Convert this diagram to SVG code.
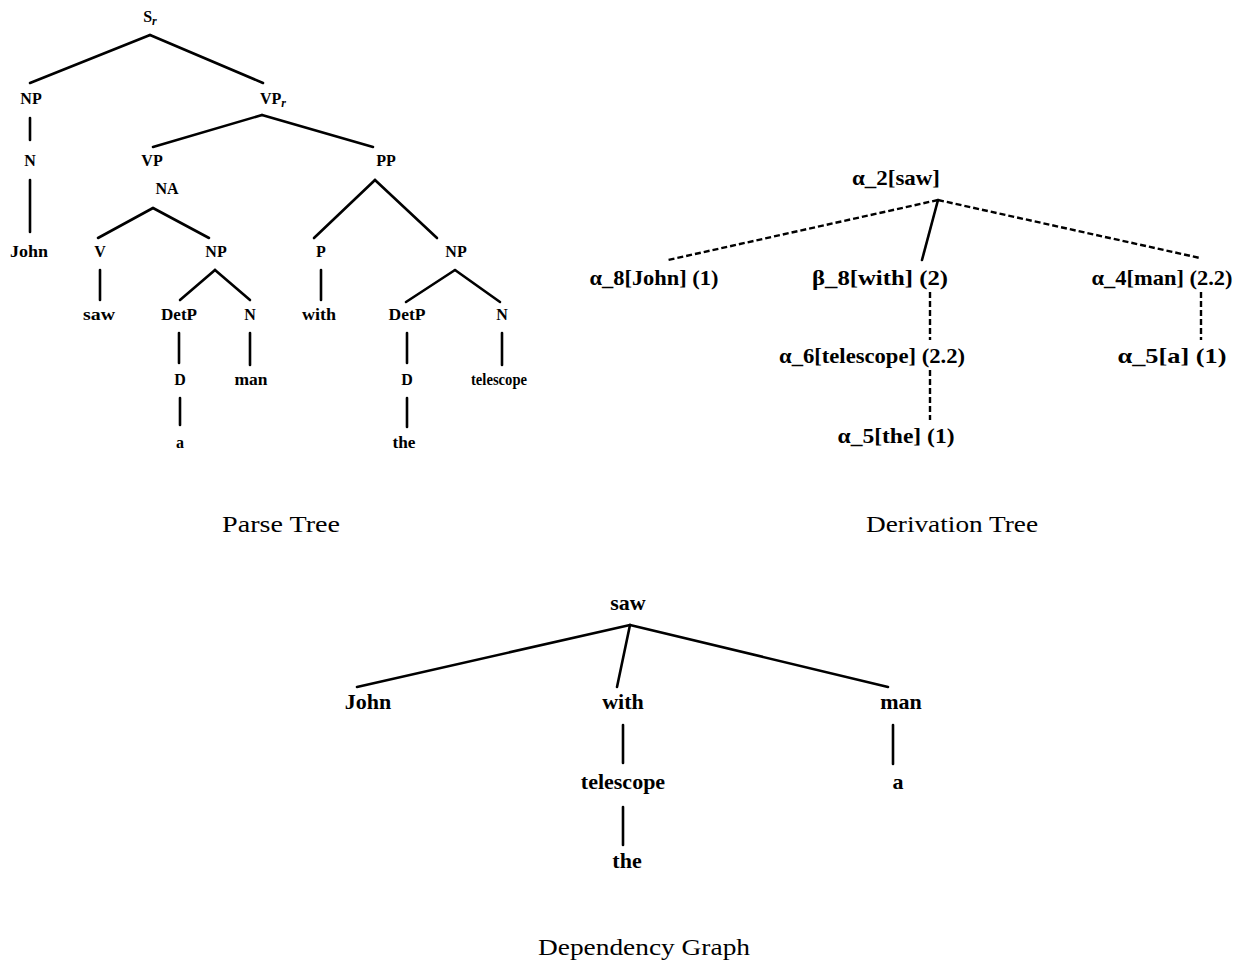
<svg xmlns="http://www.w3.org/2000/svg" width="1241" height="967" viewBox="0 0 1241 967">
<style>
.p{font-family:"Liberation Serif","DejaVu Serif",serif;font-weight:bold;font-size:16px;fill:#000;text-anchor:middle}
.d{font-family:"Liberation Serif","DejaVu Serif",serif;font-weight:bold;font-size:22px;fill:#000;text-anchor:middle}
.g{font-family:"Liberation Serif","DejaVu Serif",serif;font-weight:bold;font-size:22px;fill:#000;text-anchor:middle}
.c{font-family:"Liberation Serif","DejaVu Serif",serif;font-size:23px;fill:#000;text-anchor:middle}
.e line{stroke:#000;stroke-width:2.6;stroke-linecap:round}
.e line.dash{stroke-width:2.4;stroke-dasharray:6,3;stroke-linecap:butt}
.sub{font-size:12px;font-style:italic}
</style>
<rect width="1241" height="967" fill="#fff"/>
<g id="connectors" class="e">
  <line x1="150" y1="35" x2="30" y2="83"/>
  <line x1="150" y1="35" x2="263" y2="83"/>
  <line x1="30" y1="118" x2="30" y2="140"/>
  <line x1="30" y1="180" x2="30" y2="232"/>
  <line x1="262" y1="115" x2="153" y2="147"/>
  <line x1="262" y1="115" x2="373" y2="147"/>
  <line x1="153" y1="208" x2="98" y2="238"/>
  <line x1="153" y1="208" x2="209" y2="238"/>
  <line x1="375" y1="180" x2="314" y2="238"/>
  <line x1="375" y1="180" x2="437" y2="238"/>
  <line x1="100" y1="270" x2="100" y2="300"/>
  <line x1="215" y1="270" x2="180" y2="300"/>
  <line x1="215" y1="270" x2="250" y2="300"/>
  <line x1="179" y1="333" x2="179" y2="363"/>
  <line x1="250" y1="333" x2="250" y2="365"/>
  <line x1="180" y1="398" x2="180" y2="425"/>
  <line x1="321" y1="270" x2="321" y2="300"/>
  <line x1="455" y1="270" x2="406" y2="302"/>
  <line x1="455" y1="270" x2="500" y2="302"/>
  <line x1="407" y1="333" x2="407" y2="363"/>
  <line x1="407" y1="398" x2="407" y2="427"/>
  <line x1="502" y1="333" x2="502" y2="365"/>
  <line class="dash" x1="938" y1="200" x2="668" y2="260"/>
  <line x1="938" y1="200" x2="922" y2="260"/>
  <line class="dash" x1="938" y1="200" x2="1200" y2="258"/>
  <line class="dash" x1="930" y1="292" x2="930" y2="340"/>
  <line class="dash" x1="930" y1="370" x2="930" y2="420"/>
  <line class="dash" x1="1201" y1="292" x2="1201" y2="340"/>
  <line x1="630" y1="625" x2="357" y2="687"/>
  <line x1="630" y1="625" x2="617" y2="687"/>
  <line x1="630" y1="625" x2="888" y2="687"/>
  <line x1="623" y1="725" x2="623" y2="763"/>
  <line x1="623" y1="807" x2="623" y2="845"/>
  <line x1="893" y1="725" x2="893" y2="764"/>
</g>
<g id="parse-tree">
  <g id="pt-S"><text class="p" x="150" y="22">S<tspan class="sub" dy="3">r</tspan></text></g>
  <g id="pt-NP1"><text class="p" x="31" y="104">NP</text></g>
  <g id="pt-VPr"><text class="p" x="273" y="104">VP<tspan class="sub" dy="3">r</tspan></text></g>
  <g id="pt-N1"><text class="p" x="30" y="166">N</text></g>
  <g id="pt-John"><text class="p" x="29" y="257" textLength="38" lengthAdjust="spacingAndGlyphs">John</text></g>
  <g id="pt-VP"><text class="p" x="152" y="166">VP</text></g>
  <g id="pt-NA"><text class="p" x="167" y="194">NA</text></g>
  <g id="pt-PP"><text class="p" x="386" y="166">PP</text></g>
  <g id="pt-V"><text class="p" x="100" y="257">V</text></g>
  <g id="pt-NP2"><text class="p" x="216" y="257">NP</text></g>
  <g id="pt-P"><text class="p" x="321" y="257">P</text></g>
  <g id="pt-NP3"><text class="p" x="456" y="257">NP</text></g>
  <g id="pt-saw"><text class="p" x="99" y="320" textLength="32" lengthAdjust="spacingAndGlyphs">saw</text></g>
  <g id="pt-DetP1"><text class="p" x="179" y="320" textLength="36" lengthAdjust="spacingAndGlyphs">DetP</text></g>
  <g id="pt-N2"><text class="p" x="250" y="320">N</text></g>
  <g id="pt-with"><text class="p" x="319" y="320" textLength="34" lengthAdjust="spacingAndGlyphs">with</text></g>
  <g id="pt-DetP2"><text class="p" x="407" y="320" textLength="37" lengthAdjust="spacingAndGlyphs">DetP</text></g>
  <g id="pt-N3"><text class="p" x="502" y="320">N</text></g>
  <g id="pt-D1"><text class="p" x="180" y="385">D</text></g>
  <g id="pt-man"><text class="p" x="251" y="385" textLength="33" lengthAdjust="spacingAndGlyphs">man</text></g>
  <g id="pt-D2"><text class="p" x="407" y="385">D</text></g>
  <g id="pt-telescope"><text class="p" x="499" y="385" textLength="56" lengthAdjust="spacingAndGlyphs">telescope</text></g>
  <g id="pt-a"><text class="p" x="180" y="448">a</text></g>
  <g id="pt-the"><text class="p" x="404" y="448" textLength="23" lengthAdjust="spacingAndGlyphs">the</text></g>
  <text class="c" x="281" y="532" textLength="118" lengthAdjust="spacingAndGlyphs">Parse Tree</text>
</g>
<g id="derivation-tree">
  <g id="dt-saw"><text class="d" x="896" y="185" textLength="88" lengthAdjust="spacingAndGlyphs">α_2[saw]</text></g>
  <g id="dt-John"><text class="d" x="654" y="285" textLength="129" lengthAdjust="spacingAndGlyphs">α_8[John] (1)</text></g>
  <g id="dt-with"><text class="d" x="880" y="285" textLength="136" lengthAdjust="spacingAndGlyphs">β_8[with] (2)</text></g>
  <g id="dt-man"><text class="d" x="1162" y="285" textLength="141" lengthAdjust="spacingAndGlyphs">α_4[man] (2.2)</text></g>
  <g id="dt-telescope"><text class="d" x="872" y="363" textLength="186" lengthAdjust="spacingAndGlyphs">α_6[telescope] (2.2)</text></g>
  <g id="dt-a"><text class="d" x="1172" y="363" textLength="109" lengthAdjust="spacingAndGlyphs">α_5[a] (1)</text></g>
  <g id="dt-the"><text class="d" x="896" y="443" textLength="117" lengthAdjust="spacingAndGlyphs">α_5[the] (1)</text></g>
  <text class="c" x="952" y="532" textLength="172" lengthAdjust="spacingAndGlyphs">Derivation Tree</text>
</g>
<g id="dependency-graph">
  <g id="dg-saw"><text class="g" x="628" y="610">saw</text></g>
  <g id="dg-John"><text class="g" x="368" y="709">John</text></g>
  <g id="dg-with"><text class="g" x="623" y="709">with</text></g>
  <g id="dg-man"><text class="g" x="901" y="709">man</text></g>
  <g id="dg-telescope"><text class="g" x="623" y="789">telescope</text></g>
  <g id="dg-a"><text class="g" x="898" y="789">a</text></g>
  <g id="dg-the"><text class="g" x="627" y="868">the</text></g>
  <text class="c" x="644" y="955" textLength="212" lengthAdjust="spacingAndGlyphs">Dependency Graph</text>
</g>
</svg>
